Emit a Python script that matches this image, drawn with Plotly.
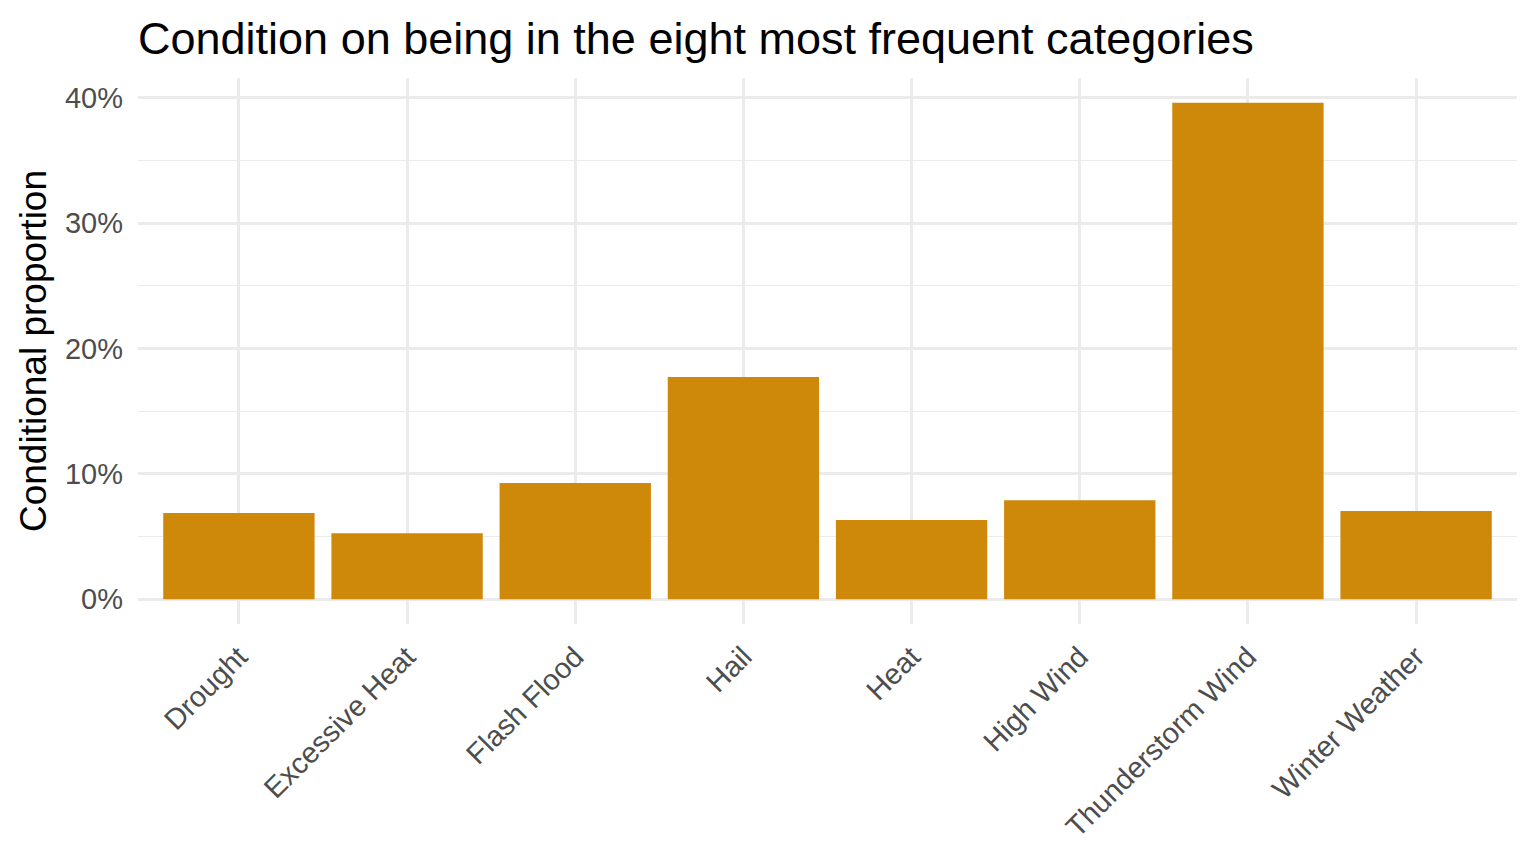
import plotly.graph_objects as go

categories = ["Drought", "Excessive Heat", "Flash Flood", "Hail", "Heat",
              "High Wind", "Thunderstorm Wind", "Winter Weather"]
proportions = [0.0687, 0.0527, 0.0926, 0.1772, 0.0631, 0.0790, 0.3960, 0.0703]
y_ticks = [0, 0.1, 0.2, 0.3, 0.4]

bar_color = "#CF890A"
grid_color = "#EBEBEB"
font = "Liberation Sans, Arial, Helvetica, sans-serif"

# page body has an 8px margin, so size the figure a little under the window
W, H = 1528, 856

fig = go.Figure(go.Bar(x=categories, y=proportions, marker_color=bar_color,
                       marker_line_width=0))

fig.update_layout(
    width=W, height=H,
    margin=dict(l=130, r=19, t=70, b=240, autoexpand=False),
    plot_bgcolor="white", paper_bgcolor="white",
    bargap=0.1,
    font=dict(family=font, color="black"),
    title=dict(text="Condition on being in the eight most frequent categories",
               font=dict(size=45, color="black"),
               x=0, xref="paper", xanchor="left",
               y=1 - 30 / H, yref="container", yanchor="middle"),
    showlegend=False,
)

fig.update_xaxes(
    range=[-0.6, 7.6],
    showgrid=True, gridcolor=grid_color, gridwidth=2.5,
    tickangle=-45, tickfont=dict(size=29, color="#4D4D4D"),
    ticklabelstandoff=9,
    showline=False, zeroline=False, ticks="",
)

fig.update_yaxes(
    range=[-0.0198, 0.4158], tickvals=y_ticks, tickformat=".0%",
    showgrid=True, gridcolor=grid_color, gridwidth=2.5,
    minor=dict(tickvals=[0.05, 0.15, 0.25, 0.35], showgrid=True,
               gridcolor=grid_color, gridwidth=1.3),
    zeroline=False, showline=False, ticks="",
    ticklabelstandoff=14,
    tickfont=dict(size=29, color="#4D4D4D"),
    title=dict(text="Conditional proportion", font=dict(size=37, color="black"),
               standoff=7),
)

fig.write_html("out.html")
